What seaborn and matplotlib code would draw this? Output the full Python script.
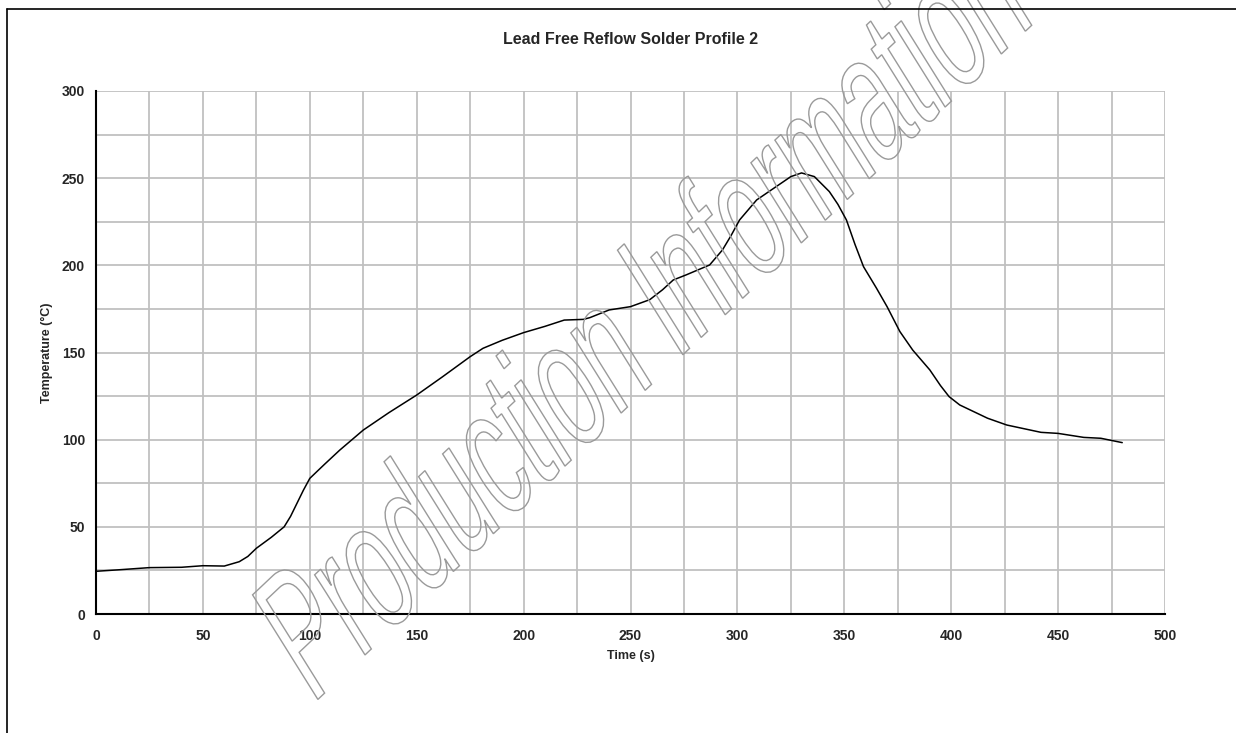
import numpy as np
import pandas as pd
import seaborn as sns
import matplotlib.pyplot as plt
from matplotlib.textpath import TextPath
from matplotlib.patches import PathPatch
from matplotlib.font_manager import FontProperties
from matplotlib.transforms import Affine2D
from matplotlib.ticker import MultipleLocator, FuncFormatter

# reflow profile
time_s = [0, 10, 25, 40, 50, 60, 67, 71, 75, 82, 88, 91, 94, 97, 100, 104, 107,
          114, 125, 137, 150, 162, 175, 181, 190, 200, 210, 219, 228, 231, 240,
          250, 259, 265, 270, 276, 287, 293, 297, 301, 309, 317, 325, 330, 336,
          343, 347, 351, 355, 359, 365, 370, 376, 382, 390, 395, 399, 404, 417,
          426, 442, 450, 462, 470, 480]
temp_c = [24.5, 25.3, 26.6, 26.8, 27.7, 27.5, 30, 33, 37.7, 44, 50, 56, 63.5,
          71, 77.8, 82.5, 86, 94, 105.5, 115.5, 125.6, 136, 147.6, 152.4, 157,
          161.4, 165, 168.6, 169, 170, 174.4, 176.3, 180.3, 186, 191.6, 194.5,
          200.2, 208.8, 217, 226, 237.5, 244.2, 250.9, 253, 250.9, 242.3, 235,
          226, 212, 199.2, 187, 176.3, 162, 151.4, 140, 131, 124.7, 119.9, 112.3,
          108.4, 104.2, 103.6, 101.3, 100.8, 98.3]

title = "Lead Free Reflow Solder Profile 2"
x_label = "Time (s)"
y_label = "Temperature (°C)"
watermark = "Production Information"

df = pd.DataFrame({"time": time_s, "temp": temp_c})

sns.set_style("white")
plt.rcParams["font.family"] = ["Liberation Sans", "DejaVu Sans"]

W, H = 1236, 733
fig = plt.figure(figsize=(W / 100, H / 100), dpi=100)
ax = fig.add_axes([96 / W, 1 - 614 / H, (1165 - 96) / W, (614 - 91) / H])

sns.lineplot(data=df, x="time", y="temp", color="black", linewidth=1.1, ax=ax)

ax.set_xlim(0, 500)
ax.set_ylim(0, 300)
ax.xaxis.set_major_locator(MultipleLocator(25))
ax.yaxis.set_major_locator(MultipleLocator(25))
lab = FuncFormatter(lambda v, p: f"{v:.0f}" if v % 50 == 0 else "")
ax.xaxis.set_major_formatter(lab)
ax.yaxis.set_major_formatter(lab)
ax.grid(True, color="#c0c0c0", linewidth=1.3)
ax.set_axisbelow(True)

for s in ["top", "right"]:
    ax.spines[s].set_visible(False)
for s in ["left", "bottom"]:
    ax.spines[s].set_color("black")
    ax.spines[s].set_linewidth(1.5)
ax.tick_params(direction="out", length=4, width=1.2, color="black", labelsize=10)
ax.tick_params(axis="x", pad=7)
ax.tick_params(axis="y", pad=4)
for t in ax.get_xticklabels() + ax.get_yticklabels():
    t.set_fontweight("bold")

ax.set_title(title, fontsize=11.5, fontweight="bold", pad=34)
ax.set_xlabel(x_label, fontsize=9, fontweight="bold", labelpad=5)
ax.set_ylabel(y_label, fontsize=9, fontweight="bold", labelpad=6)

# outer frame (left and top edges visible)
fig.add_artist(plt.Line2D([7 / W, 7 / W], [0, 1 - 9 / H], color="black", lw=1.2,
                          transform=fig.transFigure))
fig.add_artist(plt.Line2D([7 / W, 1], [1 - 9 / H, 1 - 9 / H], color="black",
                          lw=1.2, transform=fig.transFigure))

# outlined, slanted watermark text
tp = TextPath((0, 0), watermark, size=1, prop=FontProperties(family="Liberation Sans"))
bx, by = 72.0, 68.0      # baseline direction per em (display px)
ux, uy = -95.0, 152.0    # up direction per em
ox, oy = 312, H - 705
wm = Affine2D(np.array([[bx, ux, ox], [by, uy, oy], [0, 0, 1]]))
fig.add_artist(PathPatch(tp, facecolor="none", edgecolor="#9a9a9a", lw=1.0,
                         transform=wm))

fig.savefig("out.png", dpi=100)
